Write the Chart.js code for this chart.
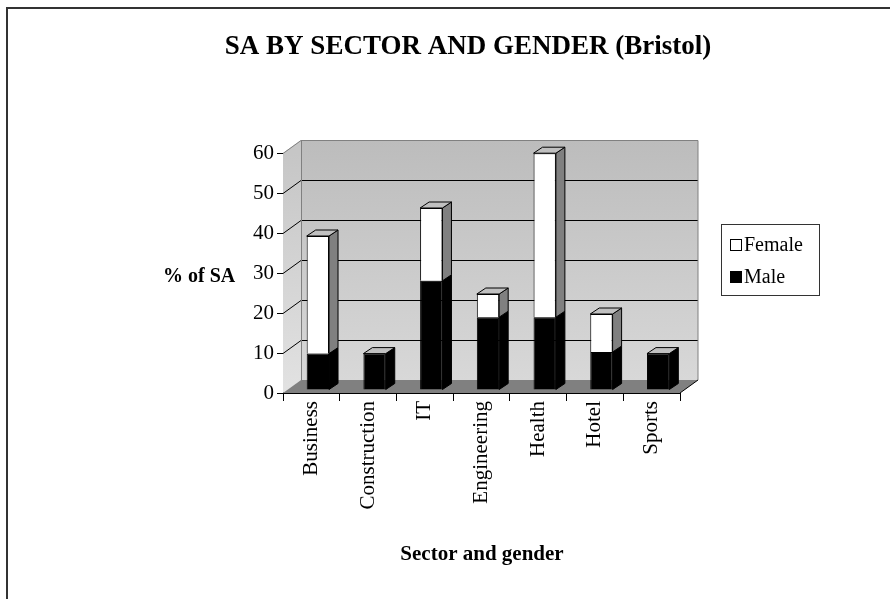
<!DOCTYPE html>
<html>
<head>
<meta charset="utf-8">
<script src="https://cdn.jsdelivr.net/npm/chart.js@4/dist/chart.umd.min.js"></script>
<style>
  body { margin: 0; background: #fff; }
  canvas { display: block; }
</style>
</head>
<body>
<canvas id="sa-chart" width="890" height="599"></canvas>
<script>
// Data
const sectors = ['Business', 'Construction', 'IT', 'Engineering', 'Health', 'Hotel', 'Sports'];
const maleValues = [9.1, 9.1, 27.3, 18.2, 18.2, 9.5, 9.1];
const femaleValues = [29.4, 0, 18.2, 5.8, 41.0, 9.5, 0];
const yTicks = [0, 10, 20, 30, 40, 50, 60];

const SERIF = '"Liberation Serif", "Times New Roman", serif';
const WALL_DX = 18, WALL_DY = -13;          // depth of floor and walls
const BAR_DX = 9, BAR_DY = -6;              // depth of each column
const BAR_SHIFT_X = 6.5, BAR_SHIFT_Y = -3;  // columns sit a bit behind the front edge

function poly(ctx, pts, fill, stroke) {
  ctx.beginPath();
  ctx.moveTo(pts[0][0], pts[0][1]);
  for (let i = 1; i < pts.length; i++) ctx.lineTo(pts[i][0], pts[i][1]);
  ctx.closePath();
  if (fill) { ctx.fillStyle = fill; ctx.fill(); }
  if (stroke) { ctx.strokeStyle = stroke; ctx.lineWidth = 1; ctx.stroke(); }
}

function line(ctx, pts, color) {
  ctx.beginPath();
  ctx.moveTo(pts[0][0], pts[0][1]);
  for (let i = 1; i < pts.length; i++) ctx.lineTo(pts[i][0], pts[i][1]);
  ctx.strokeStyle = color;
  ctx.lineWidth = 1;
  ctx.stroke();
}

// Draws the fake 3D box, column sides/tops, titles and legend
const excel3d = {
  id: 'excel3d',
  beforeDraw(chart) {
    const ctx = chart.ctx;
    ctx.save();
    ctx.fillStyle = '#fff';
    ctx.fillRect(0, 0, chart.width, chart.height);
    // chart border (only top and left are inside the picture)
    ctx.fillStyle = '#333';
    ctx.fillRect(6, 7, chart.width - 6, 2);
    ctx.fillRect(6, 7, 2, chart.height - 7);
    ctx.restore();
  },
  beforeDatasetsDraw(chart) {
    const { ctx, chartArea: a, scales } = chart;
    const ys = scales.y;
    ctx.save();
    // left wall
    let g = ctx.createLinearGradient(0, a.top, 0, a.bottom);
    g.addColorStop(0, '#c6c6c6');
    g.addColorStop(1, '#e2e2e2');
    poly(ctx, [[a.left, a.top], [a.left + WALL_DX, a.top + WALL_DY],
      [a.left + WALL_DX, a.bottom + WALL_DY], [a.left, a.bottom]], g);
    // back wall
    g = ctx.createLinearGradient(0, a.top + WALL_DY, 0, a.bottom + WALL_DY);
    g.addColorStop(0, '#bcbcbc');
    g.addColorStop(1, '#d8d8d8');
    ctx.fillStyle = g;
    ctx.fillRect(a.left + WALL_DX, a.top + WALL_DY, a.right - a.left, a.bottom - a.top);
    // floor
    poly(ctx, [[a.left, a.bottom], [a.left + WALL_DX, a.bottom + WALL_DY],
      [a.right + WALL_DX, a.bottom + WALL_DY], [a.right, a.bottom]], '#808080');
    // gridlines on the walls
    yTicks.forEach(v => {
      if (v === 0 || v === yTicks[yTicks.length - 1]) return;
      const py = Math.round(ys.getPixelForValue(v)) + 0.5;
      line(ctx, [[a.left, py], [a.left + WALL_DX, py + WALL_DY], [a.right + WALL_DX, py + WALL_DY]], '#000');
    });
    // wall edges
    const t = Math.round(a.top) + 0.5;
    line(ctx, [[a.left, t], [a.left + WALL_DX, t + WALL_DY], [a.right + WALL_DX, t + WALL_DY],
      [a.right + WALL_DX, a.bottom + WALL_DY]], '#808080');
    line(ctx, [[a.left + WALL_DX + 0.5, t + WALL_DY], [a.left + WALL_DX + 0.5, a.bottom + WALL_DY]], '#808080');
    line(ctx, [[a.right, a.bottom], [a.right + WALL_DX, a.bottom + WALL_DY]], '#000');
    ctx.restore();

    ctx.save();
    ctx.translate(BAR_SHIFT_X, BAR_SHIFT_Y);
  },
  afterDatasetsDraw(chart) {
    const ctx = chart.ctx;
    const sets = chart.data.datasets;
    const sideColors = ['#000', '#808080'];
    sectors.forEach((_, i) => {
      let topSet = -1;
      sets.forEach((ds, d) => { if (ds.data[i] > 0) topSet = d; });
      sets.forEach((ds, d) => {
        if (!(ds.data[i] > 0)) return;
        const el = chart.getDatasetMeta(d).data[i];
        const r = el.x + el.width / 2, l = el.x - el.width / 2;
        poly(ctx, [[r, el.y], [r + BAR_DX, el.y + BAR_DY], [r + BAR_DX, el.base + BAR_DY], [r, el.base]],
          sideColors[d], '#000');
        if (d === topSet) {
          poly(ctx, [[l, el.y], [l + BAR_DX, el.y + BAR_DY], [r + BAR_DX, el.y + BAR_DY], [r, el.y]],
            '#c0c0c0', '#000');
        }
      });
    });
    ctx.restore();
  },
  afterDraw(chart) {
    const ctx = chart.ctx;
    ctx.save();
    ctx.fillStyle = '#000';
    ctx.textBaseline = 'alphabetic';
    ctx.textAlign = 'center';
    ctx.font = 'bold 27px ' + SERIF;
    ctx.fillText('SA BY SECTOR AND GENDER (Bristol)', 468, 54);
    ctx.font = 'bold 21px ' + SERIF;
    ctx.fillText('Sector and gender', 482, 560);
    ctx.textAlign = 'left';
    ctx.font = 'bold 20px ' + SERIF;
    ctx.fillText('% of SA', 163, 282);

    // legend (Female first, as in the reference)
    ctx.strokeStyle = '#333';
    ctx.lineWidth = 1;
    ctx.strokeRect(721.5, 224.5, 98, 71);
    ctx.font = '20px ' + SERIF;
    const items = chart.data.datasets.slice().reverse();
    items.forEach((ds, k) => {
      const y = 239 + k * 32;
      ctx.fillStyle = ds.backgroundColor;
      ctx.fillRect(730, y, 12, 12);
      ctx.strokeStyle = '#000';
      ctx.strokeRect(730.5, y + 0.5, 11, 11);
      ctx.fillStyle = '#000';
      ctx.fillText(ds.label, 744, y + 12);
    });
    ctx.restore();
  }
};

new Chart(document.getElementById('sa-chart'), {
  type: 'bar',
  data: {
    labels: sectors,
    datasets: [
      { label: 'Male', data: maleValues, backgroundColor: '#000', borderColor: '#000', borderWidth: 1 },
      { label: 'Female', data: femaleValues, backgroundColor: '#fff', borderColor: '#000', borderWidth: 1 }
    ]
  },
  options: {
    responsive: false,
    animation: false,
    layout: { padding: { top: 153, right: 210, left: 0, bottom: 0 } },
    datasets: { bar: { categoryPercentage: 1, barPercentage: 0.394, clip: false } },
    plugins: { legend: { display: false }, title: { display: false }, tooltip: { enabled: false } },
    scales: {
      x: {
        stacked: true,
        z: 1,
        afterFit: s => { s.height = 599 - 393; },
        grid: { drawOnChartArea: false, tickLength: 8, color: '#000', offset: true },
        border: { color: '#000', width: 1 },
        ticks: { autoSkip: false, minRotation: 90, maxRotation: 90, padding: 0, color: '#000',
          font: { family: SERIF, size: 21 } }
      },
      y: {
        stacked: true,
        z: 1,
        min: 0,
        max: 60,
        afterFit: s => { s.width = 283; },
        afterBuildTicks: s => { s.ticks = yTicks.map(v => ({ value: v })); },
        grid: { drawOnChartArea: false, tickLength: 6, color: '#000' },
        border: { color: '#000', width: 1 },
        ticks: { padding: 3, color: '#000', font: { family: SERIF, size: 21 } }
      }
    }
  },
  plugins: [excel3d]
});
</script>
</body>
</html>
